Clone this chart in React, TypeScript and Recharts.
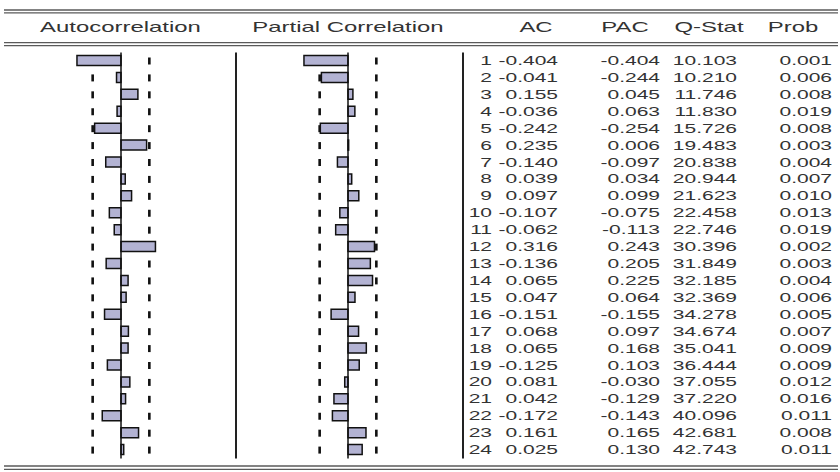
import React from "react";
import { ComposedChart, Bar, XAxis, YAxis, ReferenceLine, LabelList } from "recharts";

// ---- data ----
const lags = [1, 2, 3, 4, 5, 6, 7, 8, 9, 10, 11, 12, 13, 14, 15, 16, 17, 18, 19, 20, 21, 22, 23, 24];
const acValues = [-0.404, -0.041, 0.155, -0.036, -0.242, 0.235, -0.14, 0.039, 0.097, -0.107, -0.062, 0.316, -0.136, 0.065, 0.047, -0.151, 0.068, 0.065, -0.125, 0.081, 0.042, -0.172, 0.161, 0.025];
const pacValues = [-0.404, -0.244, 0.045, 0.063, -0.254, 0.006, -0.097, 0.034, 0.099, -0.075, -0.113, 0.243, 0.205, 0.225, 0.064, -0.155, 0.097, 0.168, 0.103, -0.03, -0.129, -0.143, 0.165, 0.13];
const qStats = [10.103, 10.21, 11.746, 11.83, 15.726, 19.483, 20.838, 20.944, 21.623, 22.458, 22.746, 30.396, 31.849, 32.185, 32.369, 34.278, 34.674, 35.041, 36.444, 37.055, 37.22, 40.096, 42.681, 42.743];
const probs = [0.001, 0.006, 0.008, 0.019, 0.008, 0.003, 0.004, 0.007, 0.01, 0.013, 0.019, 0.002, 0.003, 0.004, 0.006, 0.005, 0.007, 0.009, 0.009, 0.012, 0.016, 0.011, 0.008, 0.011];
const bound = 0.26;
const headers = ["Autocorrelation", "Partial Correlation", "AC", "PAC", "Q-Stat", "Prob"];

const rows = lags.map((lag, i) => ({
  lag,
  ac: acValues[i],
  pac: pacValues[i],
}));

// ---- layout ----
const W = 840;
const H = 472;
const PX_PER_UNIT = 109;
const AC_ZERO = 121;
const PAC_ZERO = 348;
const TOP = 52.5;
const BOTTOM = 458.5;
const FONT = "'Liberation Sans', Arial, sans-serif";
const TEXT = "#333";
const SX = 1.68;
const COL = { lag: 492, ac: 558, pac: 660, q: 737, prob: 832 };
const DASH_HALF = 0.012;

const acDomain = [-AC_ZERO / PX_PER_UNIT, (W - AC_ZERO) / PX_PER_UNIT];
const pacDomain = [-PAC_ZERO / PX_PER_UNIT, (W - PAC_ZERO) / PX_PER_UNIT];

const dashLo = () => [-bound - DASH_HALF, -bound + DASH_HALF];
const dashHi = () => [bound - DASH_HALF, bound + DASH_HALF];

const Cell = ({ x, y, s }: { x: number; y: number; s: string }) => (
  <text x={0} y={0} transform={`translate(${x},${y}) scale(${SX},1)`} textAnchor="end"
    fontFamily={FONT} fontSize={12.5} fill={TEXT}>{s}</text>
);

const RowLabel = (props: any) => {
  const { y, height, index } = props;
  const i = Number(index);
  if (!(i >= 0 && i < lags.length)) return null;
  const by = Number(y) + Number(height) / 2 + 4.5;
  if (!isFinite(by)) return null;
  return (
    <g>
      <Cell x={COL.lag} y={by} s={String(lags[i])} />
      <Cell x={COL.ac} y={by} s={acValues[i].toFixed(3)} />
      <Cell x={COL.pac} y={by} s={pacValues[i].toFixed(3)} />
      <Cell x={COL.q} y={by} s={qStats[i].toFixed(3)} />
      <Cell x={COL.prob} y={by} s={probs[i].toFixed(3)} />
    </g>
  );
};

const Header = ({ x, s }: { x: number; s: string }) => (
  <text x={0} y={0} transform={`translate(${x},32) scale(1.65,1)`} textAnchor="middle"
    fontFamily={FONT} fontSize={14.5} fill={TEXT}>{s}</text>
);

const Rule = ({ y }: { y: number }) => (
  <line x1={4} x2={838} y1={y} y2={y} stroke="#5a5a5a" strokeWidth={1.3} />
);

const hiddenY = (id: string) => (
  <YAxis key={id} yAxisId={id} type="category" dataKey="lag" hide allowDuplicatedCategory={false} />
);

export default function App() {
  return (
    <div style={{ position: "absolute", left: 0, top: 0, width: W, height: H, background: "#fff" }}>
      <ComposedChart width={W} height={H} data={rows} layout="vertical"
        margin={{ top: TOP, right: 0, bottom: H - BOTTOM, left: 0 }}>
        <XAxis xAxisId="ac" type="number" domain={acDomain} allowDataOverflow hide />
        <XAxis xAxisId="pac" type="number" domain={pacDomain} allowDataOverflow hide />
        {hiddenY("rows")}
        {hiddenY("pacY")}
        {hiddenY("acLoY")}
        {hiddenY("acHiY")}
        {hiddenY("pacLoY")}
        {hiddenY("pacHiY")}
        <Bar xAxisId="ac" yAxisId="acLoY" dataKey={dashLo} barSize={7} fill="#111" isAnimationActive={false} />
        <Bar xAxisId="ac" yAxisId="acHiY" dataKey={dashHi} barSize={7} fill="#111" isAnimationActive={false} />
        <Bar xAxisId="pac" yAxisId="pacLoY" dataKey={dashLo} barSize={7} fill="#111" isAnimationActive={false} />
        <Bar xAxisId="pac" yAxisId="pacHiY" dataKey={dashHi} barSize={7} fill="#111" isAnimationActive={false} />
        <Bar xAxisId="ac" yAxisId="rows" dataKey="ac" barSize={10} fill="#b3b3d3" stroke="#111" strokeWidth={1.5} isAnimationActive={false}>
          <LabelList dataKey="lag" content={(p: any) => <RowLabel {...p} />} />
        </Bar>
        <Bar xAxisId="pac" yAxisId="pacY" dataKey="pac" barSize={10} fill="#b3b3d3" stroke="#111" strokeWidth={1.5} isAnimationActive={false} />
        <ReferenceLine xAxisId="ac" yAxisId="rows" x={0} stroke="#111" strokeWidth={1.5} />
        <ReferenceLine xAxisId="pac" yAxisId="rows" x={0} stroke="#111" strokeWidth={1.5} />
      </ComposedChart>
      <svg width={W} height={H} style={{ position: "absolute", left: 0, top: 0, pointerEvents: "none" }}>
        <Rule y={10} />
        <Rule y={12.8} />
        <Rule y={42.7} />
        <Rule y={45.7} />
        <Rule y={466} />
        <Rule y={469.3} />
        <Header x={120.5} s={headers[0]} />
        <Header x={348} s={headers[1]} />
        <Header x={536} s={headers[2]} />
        <Header x={625} s={headers[3]} />
        <Header x={709} s={headers[4]} />
        <Header x={793} s={headers[5]} />
        <line x1={236} x2={236} y1={TOP} y2={BOTTOM} stroke="#222" strokeWidth={2} />
        <line x1={463} x2={463} y1={TOP} y2={BOTTOM} stroke="#222" strokeWidth={2} />
      </svg>
    </div>
  );
}
